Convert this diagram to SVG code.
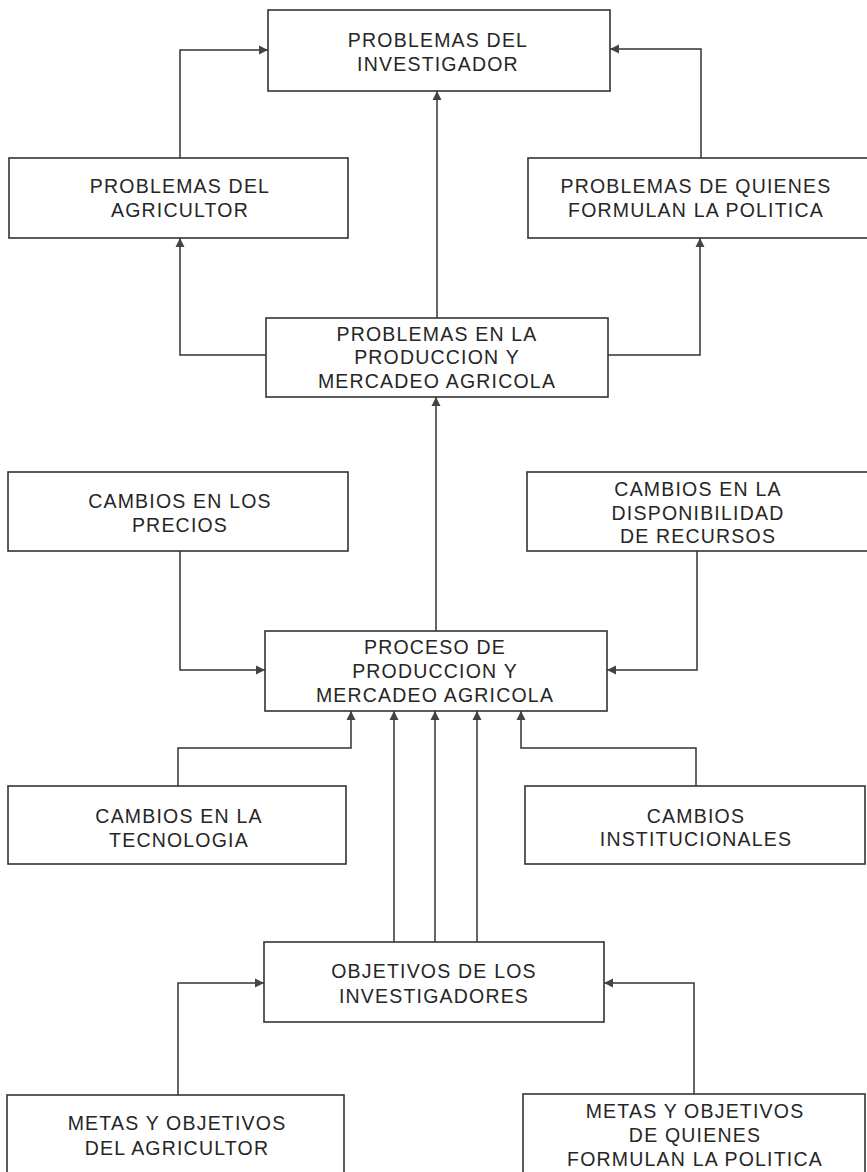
<svg xmlns="http://www.w3.org/2000/svg" width="867" height="1172" viewBox="0 0 867 1172">
  <style>
    .box rect { fill: none; stroke: #333; stroke-width: 1.6; }
    .box text { font-family: "Liberation Sans", Arial, sans-serif; font-size: 19.5px; letter-spacing: 1.2px; fill: #262626; text-anchor: middle; }
    #connectors path { fill: none; stroke: #333; stroke-width: 1.5; marker-end: url(#arrow); }
  </style>
  <defs>
    <marker id="arrow" viewBox="0 0 10 10" refX="10" refY="5" markerWidth="9" markerHeight="10" markerUnits="userSpaceOnUse" orient="auto">
      <path d="M0,0 L10,5 L0,10 z" fill="#444"/>
    </marker>
  </defs>
  <rect width="867" height="1172" fill="#fff"/>

  <g id="connectors">
    <path d="M180,158 V50 H268"/>
    <path d="M701,158 V49 H610"/>
    <path d="M437,318 V91"/>
    <path d="M266,355 H180 V238"/>
    <path d="M608,355 H700 V238"/>
    <path d="M436,631 V397"/>
    <path d="M180,551 V670 H265"/>
    <path d="M697,551 V670 H607"/>
    <path d="M178,786 V748 H351 V711"/>
    <path d="M696,786 V748 H521 V711"/>
    <path d="M394,942 V711"/>
    <path d="M435,942 V711"/>
    <path d="M477,942 V711"/>
    <path d="M178,1095 V983 H264"/>
    <path d="M694,1094 V983 H604"/>
  </g>

  <g id="problemas-investigador" class="box">
    <rect x="268" y="10" width="342" height="81"/>
    <text x="438" y="47">PROBLEMAS DEL</text>
    <text x="438" y="71">INVESTIGADOR</text>
  </g>
  <g id="problemas-agricultor" class="box">
    <rect x="9" y="158" width="339" height="80"/>
    <text x="180" y="193">PROBLEMAS DEL</text>
    <text x="180" y="217">AGRICULTOR</text>
  </g>
  <g id="problemas-politica" class="box">
    <rect x="528" y="158" width="345" height="80"/>
    <text x="696" y="193">PROBLEMAS DE QUIENES</text>
    <text x="696" y="217">FORMULAN LA POLITICA</text>
  </g>
  <g id="problemas-produccion" class="box">
    <rect x="266" y="318" width="342" height="79"/>
    <text x="437" y="341">PROBLEMAS EN LA</text>
    <text x="437" y="364">PRODUCCION Y</text>
    <text x="437" y="388">MERCADEO AGRICOLA</text>
  </g>
  <g id="cambios-precios" class="box">
    <rect x="8" y="472" width="340" height="79"/>
    <text x="180" y="508">CAMBIOS EN LOS</text>
    <text x="180" y="532">PRECIOS</text>
  </g>
  <g id="cambios-recursos" class="box">
    <rect x="527" y="472" width="345" height="79"/>
    <text x="698" y="496">CAMBIOS EN LA</text>
    <text x="698" y="520">DISPONIBILIDAD</text>
    <text x="698" y="543">DE RECURSOS</text>
  </g>
  <g id="proceso-produccion" class="box">
    <rect x="265" y="631" width="342" height="80"/>
    <text x="435" y="654">PROCESO DE</text>
    <text x="435" y="678">PRODUCCION Y</text>
    <text x="435" y="702">MERCADEO AGRICOLA</text>
  </g>
  <g id="cambios-tecnologia" class="box">
    <rect x="8" y="786" width="338" height="78"/>
    <text x="179" y="823">CAMBIOS EN LA</text>
    <text x="179" y="847">TECNOLOGIA</text>
  </g>
  <g id="cambios-institucionales" class="box">
    <rect x="525" y="786" width="340" height="78"/>
    <text x="696" y="823">CAMBIOS</text>
    <text x="696" y="846">INSTITUCIONALES</text>
  </g>
  <g id="objetivos-investigadores" class="box">
    <rect x="264" y="942" width="340" height="80"/>
    <text x="434" y="978">OBJETIVOS DE LOS</text>
    <text x="434" y="1003">INVESTIGADORES</text>
  </g>
  <g id="metas-agricultor" class="box">
    <rect x="7" y="1095" width="337" height="90"/>
    <text x="177" y="1130">METAS Y OBJETIVOS</text>
    <text x="177" y="1155">DEL AGRICULTOR</text>
  </g>
  <g id="metas-politica" class="box">
    <rect x="523" y="1094" width="342" height="90"/>
    <text x="695" y="1118">METAS Y OBJETIVOS</text>
    <text x="695" y="1142">DE QUIENES</text>
    <text x="695" y="1166">FORMULAN LA POLITICA</text>
  </g>
</svg>
